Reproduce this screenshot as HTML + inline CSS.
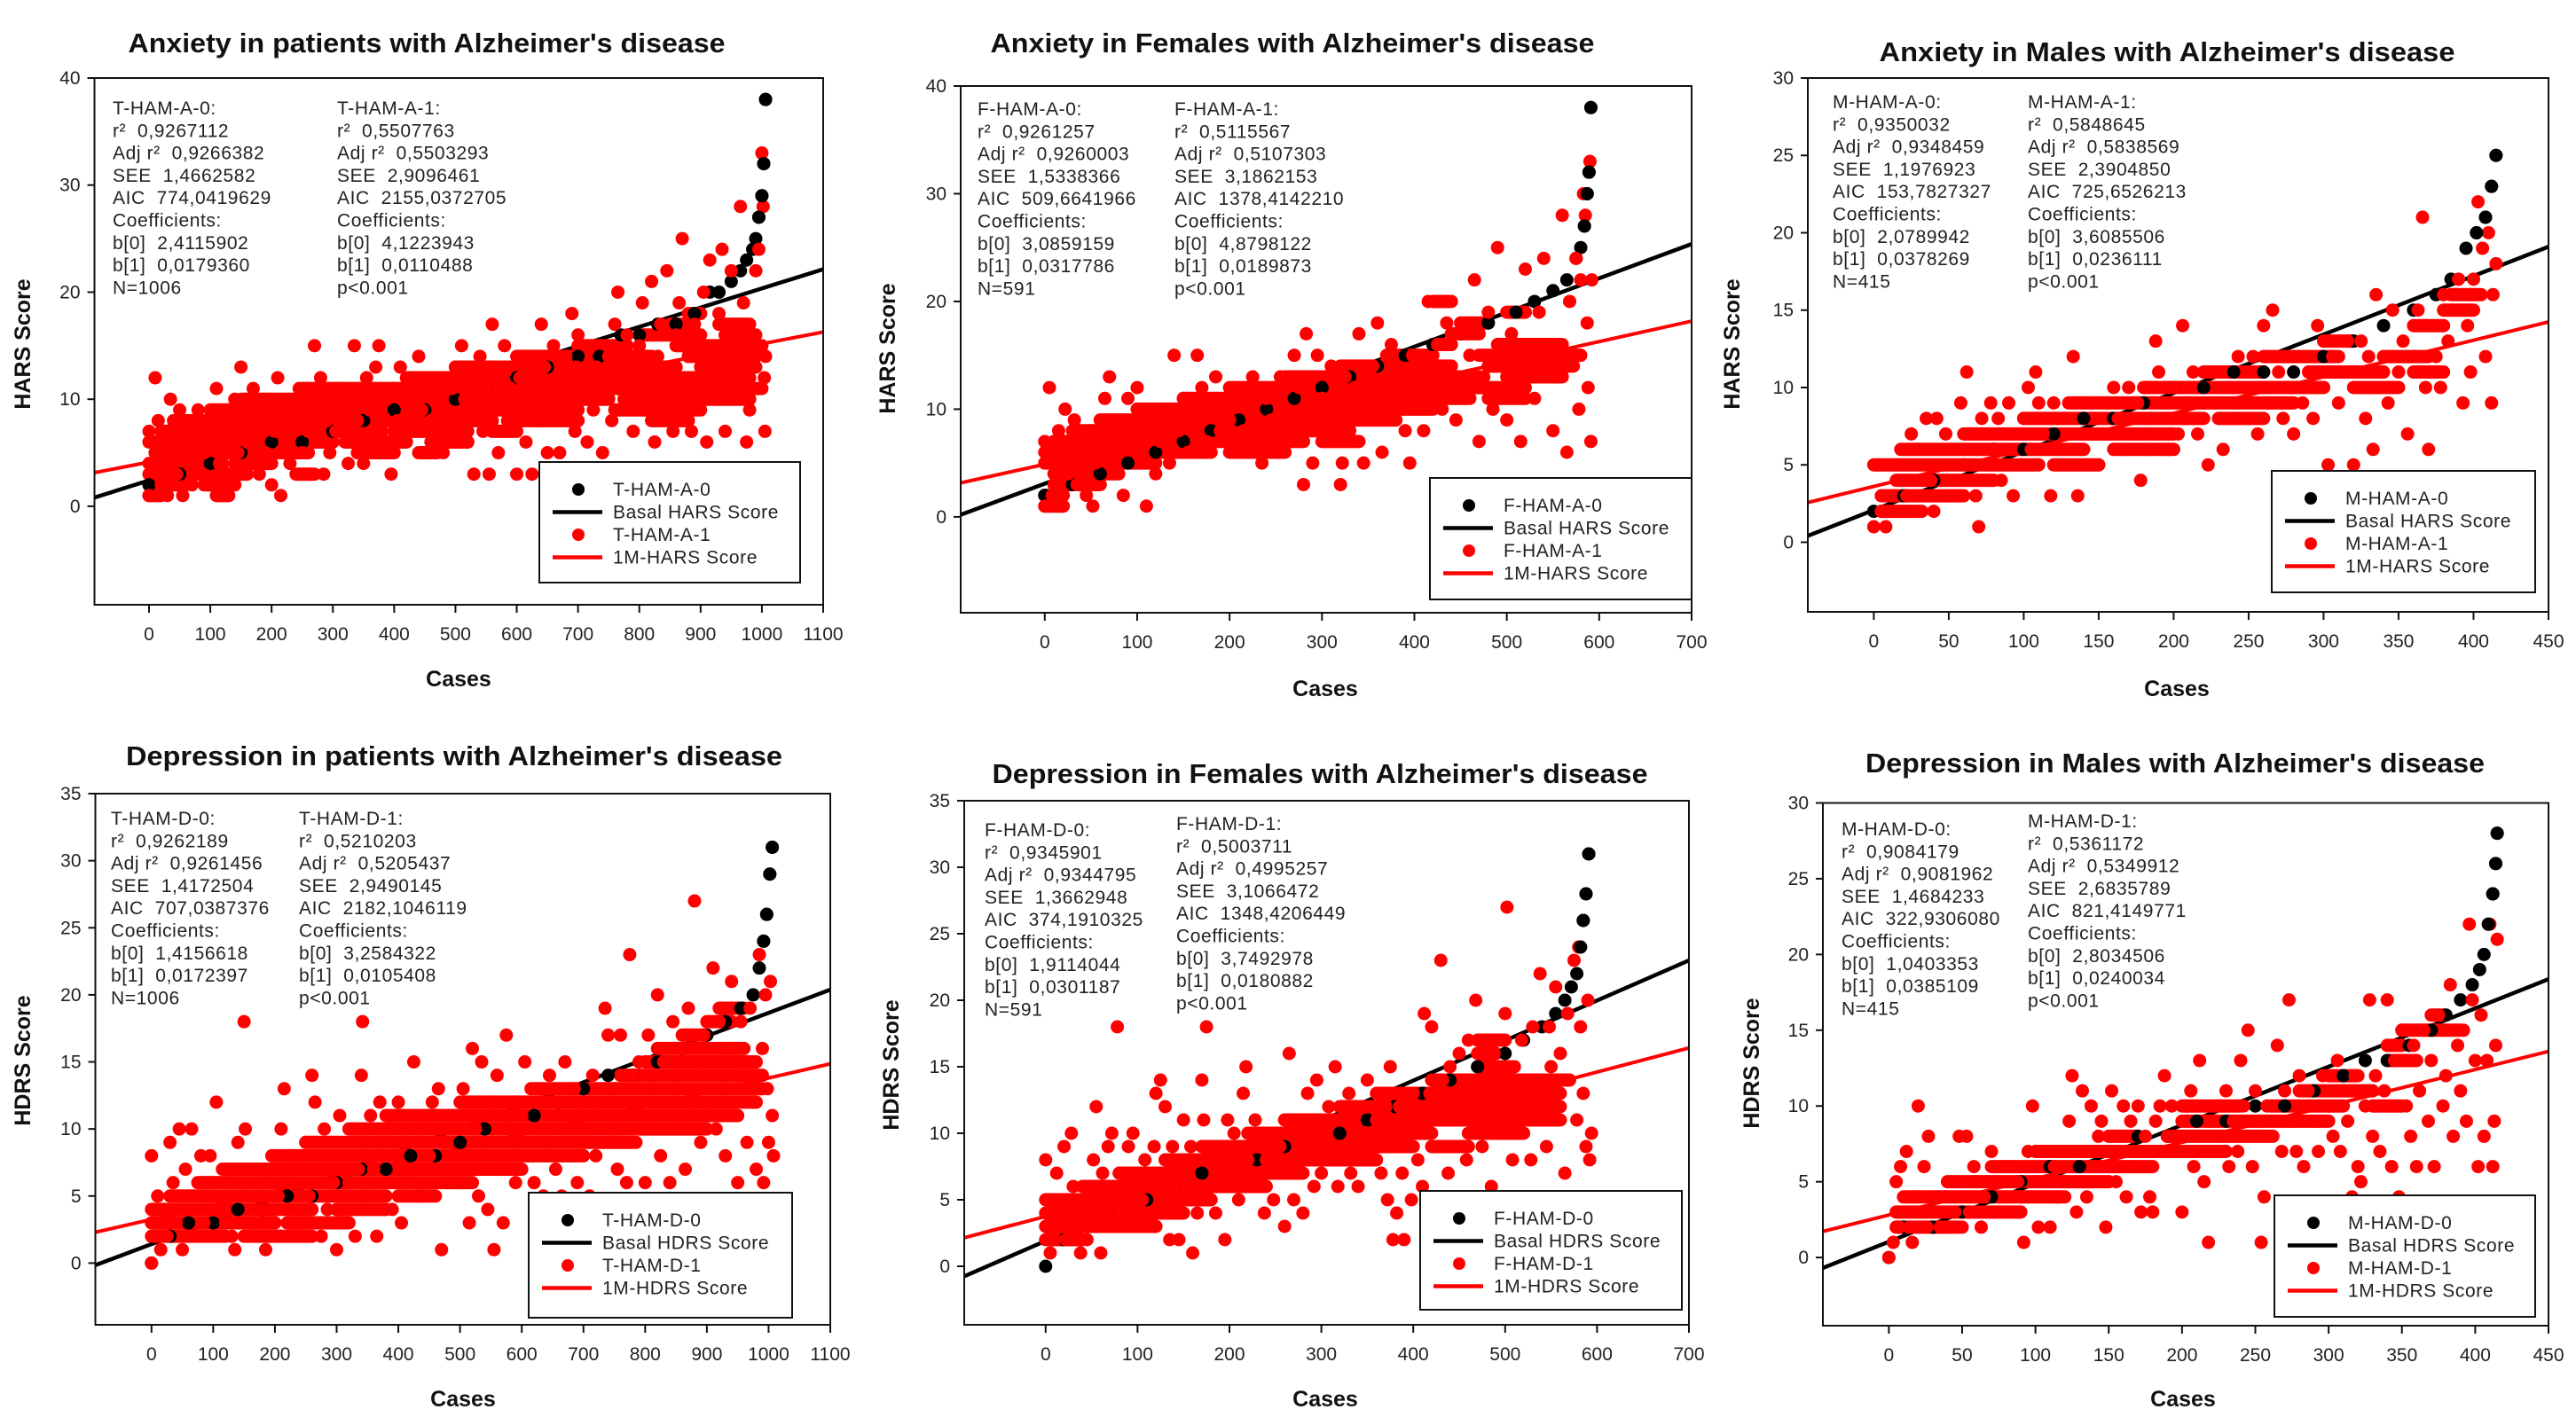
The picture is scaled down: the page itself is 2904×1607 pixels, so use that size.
<!DOCTYPE html>
<html><head><meta charset="utf-8">
<style>
html,body{margin:0;padding:0;background:#fff;}
svg{display:block;}
text{font-family:"Liberation Sans",Arial,sans-serif;}
.ttl{font-weight:bold;font-size:31px;fill:#111;}
.tick{font-size:21px;fill:#222;}
.stat{font-size:21px;fill:#222;letter-spacing:0.6px;white-space:pre;}
.axt{font-weight:bold;font-size:25px;fill:#111;}
.leg{font-size:21px;fill:#222;letter-spacing:0.6px;}
</style></head>
<body>
<svg id="fig" width="2904" height="1607" viewBox="0 0 2904 1607" xmlns="http://www.w3.org/2000/svg"></svg>
<script>
// ===== Panel 1: Anxiety, all patients =====
const p1Followup = [[0,1],[0,7],[5,4],[10,12],[15,8],[20,2],[25,5],[30,1],[35,10],[40,6],[45,3],[50,9],[55,1],[60,7],[65,4],[70,2],[75,6],[80,9],[85,3],[90,5],[95,8],
[100,2],[105,6],[110,11],[115,4],[120,1],[125,8],[130,3],[135,7],[140,10],[145,5],[150,13],[155,9],[160,6],[165,4],[170,11],[175,7],[180,3],[185,8],[190,5],[195,10],
[200,2],[205,7],[210,12],[215,1],[220,9],[225,6],[230,4],[240,8],[245,11],[250,5],[255,3],[260,7],[265,10],[270,15],[275,6],[280,12],[285,3],[290,8],[295,5],
[300,9],[305,7],[310,11],[320,6],[325,4],[330,10],[335,15],[340,8],[350,4],[355,12],[360,9],[365,6],[370,13],[375,15],[380,7],[385,10],[390,5],[395,3],[398,11],
[405,8],[410,13],[415,6],[420,10],[425,12],[430,7],[440,14],[445,9],[450,5],[455,11],[460,8],[465,12],[470,6],[475,10],[480,5],[485,9],[490,7],[495,11],
[500,13],[505,8],[510,15],[515,10],[520,6],[525,12],[530,3],[535,9],[540,14],[545,7],[550,11],[555,3],[560,17],[565,9],[570,5],[575,13],[580,15],[585,8],[590,11],[595,10],
[600,3],[605,12],[610,14],[615,6],[620,9],[625,3],[630,11],[635,8],[640,17],[645,13],[650,5],[655,10],[660,15],[665,12],[670,5],[675,9],[680,14],[685,11],[690,18],[695,7],[698,13],
[700,16],[705,10],[710,12],[715,6],[720,15],[725,9],[730,13],[740,5],[745,11],[750,14],[755,8],[760,17],[765,20],[770,12],[775,10],[780,16],[785,13],[790,7],[795,11],
[800,15],[805,19],[810,9],[815,12],[820,21],[825,6],[830,14],[835,17],[840,10],[845,22],[850,13],[855,7],[860,16],[865,19],[870,25],[875,11],[880,14],[885,7],[890,17],[895,12],
[900,15],[905,20],[910,6],[915,23],[920,10],[925,13],[930,18],[935,24],[940,7],[945,16],[950,22],[955,11],[960,14],[965,28],[970,19],[975,6],[980,9],[985,16],[990,22],[995,24],[1000,33],[1002,28],[1004,12],[1005,7],[1006,14]];
// runs of consecutive cases sharing a score: [score, firstCase, lastCase]
const p1Runs = [[1,0,20],[1,110,130],[2,0,60],[2,90,140],[3,0,80],[3,100,160],[3,240,270],[4,0,120],[4,140,200],[5,10,180],[5,200,260],[5,340,400],[5,440,470],[6,0,300],[6,320,420],[6,460,520],[7,20,380],[7,400,520],[7,560,600],[8,40,560],[8,600,700],[8,820,880],[9,100,700],[9,760,900],[10,150,750],[10,780,980],[11,250,1000],[12,420,980],[13,500,860],[13,900,990],[14,600,820],[14,880,990],[15,700,780],[15,860,1000],[16,800,900],[16,940,990],[17,850,880],[17,930,980],[18,880,900]];
const p1BasalCases = [0,50,100,150,200,250,300,350,400,450,500,550,600,650,700,735,770,800,830,860,890,915,930,950,965,975,985,990,995,1000,1003,1006];
const p1BasalScores = [2,3,4,5,6,6,7,8,9,9,10,11,12,13,14,14,16,16,17,17,18,20,20,21,22,23,24,25,27,29,32,38];
const p1Coef = [2.4115902,0.0179360,4.1223943,0.0110488];
const p1XTicks = [0,100,200,300,400,500,600,700,800,900,1000,1100];
const p1YTicks = [0,10,20,30,40];
const p1Stats0 = ["T-HAM-A-0:","r²  0,9267112","Adj r²  0,9266382","SEE  1,4662582","AIC  774,0419629","Coefficients:","b[0]  2,4115902","b[1]  0,0179360","N=1006"];
const p1Stats1 = ["T-HAM-A-1:","r²  0,5507763","Adj r²  0,5503293","SEE  2,9096461","AIC  2155,0372705","Coefficients:","b[0]  4,1223943","b[1]  0,0110488","p<0.001"];

// ===== Panel 2: Anxiety, females =====
const p2Followup = [[0,1],[0,7],[5,12],[8,2],[12,5],[15,8],[18,1],[22,10],[25,4],[28,6],[32,9],[35,3],[40,7],[45,2],[50,8],[52,1],[55,5],[60,6],[65,11],[70,13],[75,4],[80,9],[85,2],[90,11],[95,7],
[100,12],[105,5],[110,1],[115,9],[120,4],[125,7],[130,10],[135,5],[140,15],[145,8],[150,11],[155,6],[160,9],[165,15],[170,12],[175,7],[180,10],[185,13],[190,8],[195,11],
[200,9],[205,6],[210,12],[215,8],[220,10],[225,13],[230,7],[235,5],[240,11],[245,9],[250,6],[255,13],[260,10],[265,8],[270,15],[275,12],[280,3],[283,17],[285,9],[290,5],[295,15],
[300,11],[305,8],[310,14],[315,10],[320,3],[322,5],[325,13],[330,9],[335,12],[340,17],[345,5],[350,11],[355,14],[360,18],[365,6],[370,13],[375,16],[380,10],[385,12],[390,8],[395,5],[398,15],
[400,11],[405,14],[410,8],[415,20],[420,12],[425,16],[430,10],[435,18],[440,13],[445,9],[450,17],[455,11],[460,15],[465,22],[470,7],[475,13],[480,19],[485,10],[490,25],[495,14],
[500,9],[505,17],[510,12],[515,7],[520,23],[525,15],[530,11],[535,19],[540,24],[545,13],[550,8],[555,16],[560,28],[565,6],[568,20],[572,14],[575,24],[578,10],[580,22],[583,30],[585,28],[587,18],[588,12],[590,33],[591,7],[592,22]];
const p2Runs = [[1,0,20],[2,0,20],[3,10,60],[4,10,80],[5,0,120],[6,0,180],[6,200,260],[7,10,280],[7,300,340],[8,30,330],[9,60,380],[10,100,420],[11,150,460],[11,480,520],[12,200,520],[13,260,470],[13,500,560],[14,320,440],[14,480,570],[15,370,420],[15,470,580],[16,420,440],[16,490,560],[17,440,470],[18,450,480],[19,500,520],[20,420,440]];
const p2BasalCases = [0,30,60,90,120,150,180,210,240,270,300,330,360,390,420,450,480,510,530,550,565,575,580,584,587,589,591];
const p2BasalScores = [2,3,4,5,6,7,8,9,10,11,12,13,14,15,16,17,18,19,20,21,22,24,25,27,30,32,38];
const p2Coef = [3.0859159,0.0317786,4.8798122,0.0189873];
const p2XTicks = [0,100,200,300,400,500,600,700];
const p2YTicks = [0,10,20,30,40];
const p2Stats0 = ["F-HAM-A-0:","r²  0,9261257","Adj r²  0,9260003","SEE  1,5338366","AIC  509,6641966","Coefficients:","b[0]  3,0859159","b[1]  0,0317786","N=591"];
const p2Stats1 = ["F-HAM-A-1:","r²  0,5115567","Adj r²  0,5107303","SEE  3,1862153","AIC  1378,4142210","Coefficients:","b[0]  4,8798122","b[1]  0,0189873","p<0.001"];

// ===== Panel 3: Anxiety, males =====
const p3Followup = [[0,1],[3,5],[5,2],[8,1],[10,3],[12,5],[15,2],[18,6],[20,4],[22,3],[25,7],[28,5],[30,6],[32,2],[35,8],[38,4],[40,2],[42,8],[45,5],[48,7],[50,3],[52,6],[55,4],[58,9],[60,5],[62,11],[65,7],[68,3],[70,1],[72,8],[75,5],[78,9],[80,6],[83,8],[85,4],[88,6],[90,9],[93,3],[95,7],[98,5],
[100,8],[103,10],[105,6],[108,11],[110,9],[113,7],[118,3],[120,9],[125,6],[128,5],[130,8],[133,12],[136,3],[140,7],[143,5],[146,9],[150,5],[153,7],[156,9],[160,10],[163,8],[165,6],[170,10],[173,7],[176,9],[178,4],[182,6],[185,8],[188,13],[190,11],[193,9],[196,6],
[200,10],[203,7],[206,14],[210,9],[213,11],[216,7],[220,9],[223,5],[226,11],[230,8],[233,6],[236,10],[240,9],[243,12],[246,8],[250,10],[253,12],[256,7],[260,14],[263,9],[266,15],[270,11],[273,8],[276,10],[280,7],[283,12],[286,9],[290,11],[293,8],[296,14],
[300,10],[303,5],[306,12],[310,9],[313,11],[316,13],[320,5],[322,10],[325,13],[328,8],[330,12],[333,6],[335,16],[338,10],[340,12],[343,9],[346,15],[350,11],[353,13],[356,7],[360,12],[363,15],[366,21],[368,10],[370,6],[372,14],[375,12],[378,10],[380,16],[383,13],[386,15],[390,17],[393,9],[396,14],[398,11],
[400,17],[403,22],[406,19],[408,12],[410,20],[412,9],[413,16],[415,18]];
const p3Runs = [[2,5,30],[3,5,60],[4,15,80],[5,0,110],[5,120,150],[6,20,140],[6,160,200],[7,60,200],[8,100,220],[8,230,260],[9,130,280],[10,180,300],[10,320,350],[11,220,260],[11,290,340],[11,360,380],[12,260,310],[12,340,370],[13,300,320],[14,360,380],[15,380,400],[16,385,405]];
const p3BasalCases = [0,20,40,60,80,100,120,140,160,180,200,220,240,260,280,300,320,340,360,375,385,395,402,408,412,415];
const p3BasalScores = [2,3,4,5,6,6,7,8,8,9,10,10,11,11,11,12,13,14,15,16,17,19,20,21,23,25];
const p3Coef = [2.0789942,0.0378269,3.6085506,0.0236111];
const p3XTicks = [0,50,100,150,200,250,300,350,400,450];
const p3YTicks = [0,5,10,15,20,25,30];
const p3Stats0 = ["M-HAM-A-0:","r²  0,9350032","Adj r²  0,9348459","SEE  1,1976923","AIC  153,7827327","Coefficients:","b[0]  2,0789942","b[1]  0,0378269","N=415"];
const p3Stats1 = ["M-HAM-A-1:","r²  0,5848645","Adj r²  0,5838569","SEE  2,3904850","AIC  725,6526213","Coefficients:","b[0]  3,6085506","b[1]  0,0236111","p<0.001"];

// ===== Panel 4: Depression, all patients =====
const p4Followup = [[0,0],[0,8],[5,3],[10,5],[15,1],[20,4],[25,2],[30,9],[35,6],[40,3],[45,10],[50,1],[55,7],[60,4],[65,10],[70,2],[75,6],[80,8],[85,3],[90,5],[95,8],[100,2],[105,12],[110,4],[115,7],[120,3],[125,6],[130,2],[135,1],[140,9],[145,5],[150,18],[152,10],[155,3],[160,7],[165,2],[170,5],[175,7],[180,4],[185,1],[190,6],[195,8],
[200,3],[205,5],[210,10],[215,13],[220,6],[225,2],[230,8],[235,4],[240,7],[245,2],[250,9],[255,5],[260,14],[265,12],[270,7],[275,2],[280,10],[285,4],[290,8],[295,6],[300,1],[305,11],[310,3],[315,8],[320,6],[325,10],[330,2],[335,7],[340,14],[342,18],[345,9],[350,5],[355,11],[360,7],[365,2],[370,12],[375,9],[380,6],[385,10],[390,4],[395,8],
[400,12],[405,3],[410,9],[415,6],[420,11],[425,15],[430,7],[435,10],[440,5],[445,11],[450,8],[455,12],[460,7],[465,13],[470,1],[475,9],[480,6],[485,11],[490,8],[495,10],[500,6],[505,13],[510,8],[515,3],[520,16],[525,10],[530,5],[535,15],[540,9],[545,4],[550,12],[555,1],[560,14],[565,8],[570,3],[575,17],[580,10],[585,12],[590,6],[595,9],
[600,11],[605,15],[610,8],[615,13],[620,6],[625,10],[630,12],[635,5],[640,9],[645,14],[650,11],[655,7],[660,12],[665,5],[670,15],[675,10],[680,8],[685,13],[690,6],[695,12],[700,9],[705,11],[710,5],[715,14],[720,8],[725,12],[730,4],[735,19],[740,17],[745,10],[750,13],[755,7],[760,17],[765,11],[770,6],[775,23],[780,14],[785,9],[790,15],[795,12],
[800,6],[805,17],[810,10],[815,13],[820,20],[825,8],[830,15],[835,11],[840,6],[845,18],[850,13],[855,10],[860,16],[865,7],[870,19],[875,12],[880,27],[885,14],[890,9],[895,17],[900,12],[905,15],[910,22],[915,10],[920,18],[925,13],[930,8],[935,16],[940,21],[945,11],[950,6],[955,18],[960,14],[965,9],[970,19],[975,12],[980,7],[985,23],[990,16],[992,6],[995,20],[998,13],[1000,9],[1003,21],[1006,11],[1008,8]];
const p4Runs = [[2,0,120],[2,150,260],[3,0,200],[3,220,320],[4,0,260],[4,300,380],[5,30,380],[5,400,460],[6,80,520],[7,120,600],[8,200,700],[9,250,780],[10,320,900],[11,380,950],[12,500,980],[13,620,990],[14,760,990],[15,800,980],[16,820,960],[17,860,900],[18,900,940],[19,920,960]];
const p4BasalCases = [0,30,60,100,140,180,220,260,300,340,380,420,460,500,540,580,620,660,700,740,780,820,860,900,930,955,975,985,992,997,1002,1006];
const p4BasalScores = [0,2,3,3,4,4,5,5,6,7,7,8,8,9,10,10,11,12,13,14,14,15,16,17,18,19,20,22,24,26,29,31];
const p4Coef = [1.4156618,0.0172397,3.2584322,0.0105408];
const p4XTicks = [0,100,200,300,400,500,600,700,800,900,1000,1100];
const p4YTicks = [0,5,10,15,20,25,30,35];
const p4Stats0 = ["T-HAM-D-0:","r²  0,9262189","Adj r²  0,9261456","SEE  1,4172504","AIC  707,0387376","Coefficients:","b[0]  1,4156618","b[1]  0,0172397","N=1006"];
const p4Stats1 = ["T-HAM-D-1:","r²  0,5210203","Adj r²  0,5205437","SEE  2,9490145","AIC  2182,1046119","Coefficients:","b[0]  3,2584322","b[1]  0,0105408","p<0.001"];

// ===== Panel 5: Depression, females =====
const p5Followup = [[0,8],[3,4],[5,1],[8,5],[10,2],[12,7],[15,3],[18,5],[20,9],[22,2],[25,4],[28,10],[30,6],[32,3],[35,5],[38,1],[40,4],[42,6],[45,2],[48,5],[50,3],[52,8],[55,12],[58,4],[60,1],[62,7],[65,5],[68,9],[70,3],[72,10],[75,6],[78,18],[80,4],[82,7],[85,5],[88,3],[90,9],[92,6],[95,10],[98,4],
[100,7],[105,5],[108,8],[110,3],[115,6],[118,9],[120,13],[122,4],[125,14],[128,7],[130,12],[132,5],[135,2],[138,9],[140,6],[145,2],[148,8],[150,11],[152,5],[155,7],[158,9],[160,1],[162,6],[165,4],[170,14],[172,11],[175,18],[178,6],[180,9],[185,4],[190,8],[195,2],[198,11],
[200,7],[205,10],[210,5],[215,13],[218,15],[220,8],[225,6],[228,11],[230,7],[235,9],[238,4],[240,8],[245,10],[248,5],[250,7],[255,9],[260,3],[265,16],[268,10],[270,5],[275,8],[278,11],[280,4],[285,13],[290,9],[292,6],[295,14],
[300,7],[305,10],[308,12],[310,8],[315,15],[318,6],[320,11],[325,9],[330,13],[332,7],[335,10],[340,6],[345,12],[348,9],[350,14],[355,8],[360,11],[365,7],[370,12],[372,5],[375,15],[378,2],[380,9],[382,4],[385,12],[388,7],[390,2],[395,11],[398,5],
[400,13],[405,8],[408,12],[410,6],[412,19],[415,10],[418,13],[420,18],[425,9],[430,23],[432,14],[435,11],[438,7],[440,15],[445,12],[448,9],[450,16],[455,13],[458,8],[460,17],[465,11],[468,20],[470,14],[475,9],[478,17],[480,12],[485,6],[488,16],[490,10],[495,14],
[500,19],[502,27],[505,11],[508,8],[510,15],[515,12],[518,17],[520,10],[525,14],[528,8],[530,18],[535,11],[538,22],[540,13],[545,9],[548,18],[550,15],[552,5],[555,21],[558,12],[560,16],[565,7],[568,19],[570,14],[572,5],[575,23],[578,11],[580,24],[582,18],[585,13],[588,9],[590,20],[592,8],[594,10]];
const p5Runs = [[2,0,40],[3,0,120],[4,0,150],[5,0,180],[6,40,240],[7,80,280],[8,130,360],[9,170,400],[9,420,460],[10,220,420],[10,460,520],[11,260,560],[12,320,560],[13,360,560],[14,420,570],[15,470,510],[16,470,490],[17,470,500]];
const p5BasalCases = [0,20,50,80,110,140,170,200,230,260,290,320,350,380,410,440,470,500,520,540,555,565,572,578,582,585,588,591];
const p5BasalScores = [0,2,3,4,5,6,7,7,8,9,9,10,11,12,13,14,15,16,17,18,19,20,21,22,24,26,28,31];
const p5Coef = [1.9114044,0.0301187,3.7492978,0.0180882];
const p5XTicks = [0,100,200,300,400,500,600,700];
const p5YTicks = [0,5,10,15,20,25,30,35];
const p5Stats0 = ["F-HAM-D-0:","r²  0,9345901","Adj r²  0,9344795","SEE  1,3662948","AIC  374,1910325","Coefficients:","b[0]  1,9114044","b[1]  0,0301187","N=591"];
const p5Stats1 = ["F-HAM-D-1:","r²  0,5003711","Adj r²  0,4995257","SEE  3,1066472","AIC  1348,4206449","Coefficients:","b[0]  3,7492978","b[1]  0,0180882","p<0.001"];

// ===== Panel 6: Depression, males =====
const p6Followup = [[0,0],[3,1],[5,5],[7,2],[8,6],[10,3],[12,7],[14,2],[16,1],[18,4],[20,10],[22,3],[24,6],[26,2],[27,8],[30,4],[32,3],[35,2],[38,4],[40,3],[42,2],[45,3],[48,8],[50,4],[53,8],[55,3],[58,6],[60,5],[63,2],[65,4],[68,5],[70,7],[72,3],[75,5],[78,6],[80,4],[82,3],[85,6],[88,5],[90,4],[92,1],[95,7],[98,10],
[100,5],[102,2],[105,7],[108,5],[110,2],[113,6],[115,4],[118,7],[120,5],[123,9],[125,12],[128,3],[130,7],[132,11],[135,4],[138,10],[140,6],[143,8],[145,9],[148,2],[150,7],[152,11],[155,5],[158,8],[160,10],[162,4],[165,9],[168,6],[170,10],[172,3],[175,8],[178,4],[180,3],[182,9],[185,10],[188,12],[190,8],[193,10],[196,7],
[200,3],[202,8],[204,10],[206,11],[208,6],[210,8],[212,13],[215,5],[218,1],[220,9],[222,7],[225,10],[228,8],[230,11],[232,6],[235,9],[238,7],[240,13],[242,10],[245,15],[248,6],[250,11],[252,9],[254,1],[256,4],[258,10],[262,8],[265,14],[268,7],[270,11],[273,17],[275,9],[278,7],[280,12],[283,6],[286,11],[290,9],[293,7],[296,12],
[300,10],[303,8],[306,13],[308,7],[310,11],[313,9],[316,4],[318,12],[320,6],[322,5],[325,10],[328,17],[330,8],[332,12],[335,7],[338,11],[340,17],[343,6],[345,13],[348,4],[350,15],[353,10],[356,8],[358,14],[360,6],[362,11],[365,15],[368,9],[370,13],[372,6],[375,16],[378,10],[380,12],[383,18],[385,8],[388,14],[390,11],[392,15],[394,9],[396,22],[398,17],
[400,13],[402,6],[404,16],[406,8],[408,13],[410,22],[412,6],[413,9],[414,14],[415,21]];
const p6Runs = [[2,5,50],[3,5,90],[4,10,120],[5,40,150],[6,70,180],[7,100,230],[8,150,170],[8,190,260],[9,200,300],[10,200,240],[10,260,310],[10,330,350],[11,280,330],[12,300,320],[13,340,360],[14,340,350],[15,350,390],[16,370,380]];
const p6BasalCases = [0,10,30,50,70,90,110,130,150,170,190,210,230,250,270,290,310,325,340,355,370,380,390,398,403,406,409,412,414,415];
const p6BasalScores = [0,2,2,3,4,5,6,6,7,8,8,9,9,10,10,11,12,13,13,14,15,16,17,18,19,20,22,24,26,28];
const p6Coef = [1.0403353,0.0385109,2.8034506,0.0240034];
const p6XTicks = [0,50,100,150,200,250,300,350,400,450];
const p6YTicks = [0,5,10,15,20,25,30];
const p6Stats0 = ["M-HAM-D-0:","r²  0,9084179","Adj r²  0,9081962","SEE  1,4684233","AIC  322,9306080","Coefficients:","b[0]  1,0403353","b[1]  0,0385109","N=415"];
const p6Stats1 = ["M-HAM-D-1:","r²  0,5361172","Adj r²  0,5349912","SEE  2,6835789","AIC  821,4149771","Coefficients:","b[0]  2,8034506","b[1]  0,0240034","p<0.001"];

const NS = "http://www.w3.org/2000/svg";
const fig = document.getElementById("fig");
function mk(tag, parent, attrs){
  const e = document.createElementNS(NS, tag);
  for (const k in attrs) e.setAttribute(k, attrs[k]);
  parent.appendChild(e);
  return e;
}

const layouts = [
 {id:"anxiety-all", title:"Anxiety in patients with Alzheimer's disease", tx:481, ty:48, tw:673, box:[106.5,88,928,682], xd:[-89,1100], yd:[-9.2,40], ylab:"HARS Score", ylx:25, yly:388, cx:517, cy:774, s0:[127,122], s1:[380,122], leg:[608,521,294,136], names:["T-HAM-A-0","Basal HARS Score","T-HAM-A-1","1M-HARS Score"],
  fol:p1Followup, runs:p1Runs, bc:p1BasalCases, bs:p1BasalScores, coef:p1Coef, xt:p1XTicks, yt:p1YTicks, st0:p1Stats0, st1:p1Stats1},
 {id:"anxiety-females", title:"Anxiety in Females with Alzheimer's disease", tx:1457, ty:48, tw:681, box:[1083,97,1907,691], xd:[-91,700], yd:[-8.9,40], ylab:"HARS Score", ylx:1000, yly:393, cx:1494, cy:785, s0:[1102,123], s1:[1324,123], leg:[1612,539,295,137], names:["F-HAM-A-0","Basal HARS Score","F-HAM-A-1","1M-HARS Score"],
  fol:p2Followup, runs:p2Runs, bc:p2BasalCases, bs:p2BasalScores, coef:p2Coef, xt:p2XTicks, yt:p2YTicks, st0:p2Stats0, st1:p2Stats1},
 {id:"anxiety-males", title:"Anxiety in Males with Alzheimer's disease", tx:2443, ty:58, tw:649, box:[2038,88,2873,690], xd:[-44,450], yd:[-4.5,30], ylab:"HARS Score", ylx:1952, yly:388, cx:2454, cy:785, s0:[2066,115], s1:[2286,115], leg:[2561,531,297,137], names:["M-HAM-A-0","Basal HARS Score","M-HAM-A-1","1M-HARS Score"],
  fol:p3Followup, runs:p3Runs, bc:p3BasalCases, bs:p3BasalScores, coef:p3Coef, xt:p3XTicks, yt:p3YTicks, st0:p3Stats0, st1:p3Stats1},
 {id:"depression-all", title:"Depression in patients with Alzheimer's disease", tx:512, ty:852, tw:740, box:[107.5,895,936,1494], xd:[-91,1100], yd:[-4.6,35], ylab:"HDRS Score", ylx:25, yly:1196, cx:522, cy:1586, s0:[125,923], s1:[337,923], leg:[596,1345,297,141], names:["T-HAM-D-0","Basal HDRS Score","T-HAM-D-1","1M-HDRS Score"],
  fol:p4Followup, runs:p4Runs, bc:p4BasalCases, bs:p4BasalScores, coef:p4Coef, xt:p4XTicks, yt:p4YTicks, st0:p4Stats0, st1:p4Stats1},
 {id:"depression-females", title:"Depression in Females with Alzheimer's disease", tx:1488, ty:872, tw:739, box:[1087,903,1904,1494], xd:[-88.6,700], yd:[-4.4,35], ylab:"HDRS Score", ylx:1004, yly:1201, cx:1494, cy:1586, s0:[1110,936], s1:[1326,929], leg:[1601,1343,295,134], names:["F-HAM-D-0","Basal HDRS Score","F-HAM-D-1","1M-HDRS Score"],
  fol:p5Followup, runs:p5Runs, bc:p5BasalCases, bs:p5BasalScores, coef:p5Coef, xt:p5XTicks, yt:p5YTicks, st0:p5Stats0, st1:p5Stats1},
 {id:"depression-males", title:"Depression in Males with Alzheimer's disease", tx:2452, ty:860, tw:698, box:[2055,905.5,2873,1495], xd:[-45,450], yd:[-4.5,30], ylab:"HDRS Score", ylx:1974, yly:1199, cx:2461, cy:1586, s0:[2076,935], s1:[2286,926], leg:[2564,1348,294,137], names:["M-HAM-D-0","Basal HDRS Score","M-HAM-D-1","1M-HDRS Score"],
  fol:p6Followup, runs:p6Runs, bc:p6BasalCases, bs:p6BasalScores, coef:p6Coef, xt:p6XTicks, yt:p6YTicks, st0:p6Stats0, st1:p6Stats1}
];

layouts.forEach(function(P){
  const [L,T,R,B] = P.box;
  const xs = v => L + (v - P.xd[0]) / (P.xd[1] - P.xd[0]) * (R - L);
  const ys = v => B - (v - P.yd[0]) / (P.yd[1] - P.yd[0]) * (B - T);
  const g = mk("g", fig, {});
  
  

  const t = mk("text", g, {x:P.tx, y:P.ty + 11, "text-anchor":"middle", class:"ttl", textLength:P.tw, lengthAdjust:"spacingAndGlyphs"});
  t.textContent = P.title;
  
  

  const clipId = "clip-" + P.id;
  const cp = mk("clipPath", g, {id:clipId});
  mk("rect", cp, {x:L, y:T, width:R-L, height:B-T});

  const lines = mk("g", g, {"clip-path":"url(#" + clipId + ")"});
  
  
  const bl = mk("line", lines, {x1:xs(P.xd[0]), y1:ys(P.coef[0] + P.coef[1]*P.xd[0]), x2:xs(P.xd[1]), y2:ys(P.coef[0] + P.coef[1]*P.xd[1]), stroke:"#000", "stroke-width":4.5});
  
  
  const rl = mk("line", lines, {x1:xs(P.xd[0]), y1:ys(P.coef[2] + P.coef[3]*P.xd[0]), x2:xs(P.xd[1]), y2:ys(P.coef[2] + P.coef[3]*P.xd[1]), stroke:"#ff0000", "stroke-width":4});
  
  

  const grr = mk("g", g, {stroke:"#ff0000", "stroke-width":15, "stroke-linecap":"round"});
  
  
  P.runs.forEach(function(r){
    const d = mk("line", grr, {x1:xs(r[1]), y1:ys(r[0]), x2:xs(r[2]), y2:ys(r[0])});
    
    
  });

  const gb = mk("g", g, {fill:"#000"});
  
  
  P.bc.forEach(function(c, i){
    const d = mk("circle", gb, {cx:xs(c), cy:ys(P.bs[i]), r:7.5});
    
    
  });

  const gr = mk("g", g, {fill:"#ff0000"});
  
  
  P.fol.forEach(function(p){
    const d = mk("circle", gr, {cx:xs(p[0]), cy:ys(p[1]), r:7.5});
    
    
  });

  const gb2 = mk("g", g, {fill:"#000"});
  
  
  P.bc.forEach(function(c, i){
    if (i < P.bc.length - 4) return;
    const d = mk("circle", gb2, {cx:xs(c), cy:ys(P.bs[i]), r:7.5});
    
    
  });

  const fr = mk("rect", g, {x:L, y:T, width:R-L, height:B-T, fill:"none", stroke:"#111", "stroke-width":2});
  
  

  const gy = mk("g", g, {});
  
  
  P.yt.forEach(function(v){
    const y = ys(v);
    mk("line", gy, {x1:L-8, y1:y, x2:L, y2:y, stroke:"#111", "stroke-width":2});
    const tl = mk("text", gy, {x:L-16, y:y+7, "text-anchor":"end", class:"tick"});
    tl.textContent = v;
    
    
  });
  const gx = mk("g", g, {});
  
  
  P.xt.forEach(function(v){
    const x = xs(v);
    mk("line", gx, {x1:x, y1:B, x2:x, y2:B+9, stroke:"#111", "stroke-width":2});
    const tl = mk("text", gx, {x:x, y:B+40, "text-anchor":"middle", class:"tick"});
    tl.textContent = v;
    
    
  });

  const xt = mk("text", g, {x:P.cx, y:P.cy, "text-anchor":"middle", class:"axt"});
  xt.textContent = "Cases";
  
  
  const yt = mk("text", g, {x:P.ylx + 9, y:P.yly, "text-anchor":"middle", class:"axt", transform:"rotate(-90 " + (P.ylx + 9) + " " + P.yly + ")"});
  yt.textContent = P.ylab;
  
  

  [[P.st0, P.s0], [P.st1, P.s1]].forEach(function(pair, k){
    const gs = mk("g", g, {});
    
    
    pair[0].forEach(function(s, i){
      const st = mk("text", gs, {x:pair[1][0], y:pair[1][1] + 7 + i*25.3, class:"stat"});
      st.textContent = s;
      
      
    });
  });

  const [lx, ly, lw, lh] = P.leg;
  const lg = mk("g", g, {});
  
  
  mk("rect", lg, {x:lx, y:ly, width:lw, height:lh, fill:"#fff", stroke:"#111", "stroke-width":2});
  P.names.forEach(function(n, i){
    const cy = ly + 31 + i*25.5;
    const col = i < 2 ? "#000" : "#ff0000";
    if (i % 2 === 0) {
      mk("circle", lg, {cx:lx+44, cy:cy, r:7, fill:col});
    } else {
      mk("line", lg, {x1:lx+15, y1:cy, x2:lx+71, y2:cy, stroke:col, "stroke-width":4.5});
    }
    const lt = mk("text", lg, {x:lx+83, y:cy+7, class:"leg"});
    lt.textContent = n;
    
    
  });
});
</script>
</body></html>
